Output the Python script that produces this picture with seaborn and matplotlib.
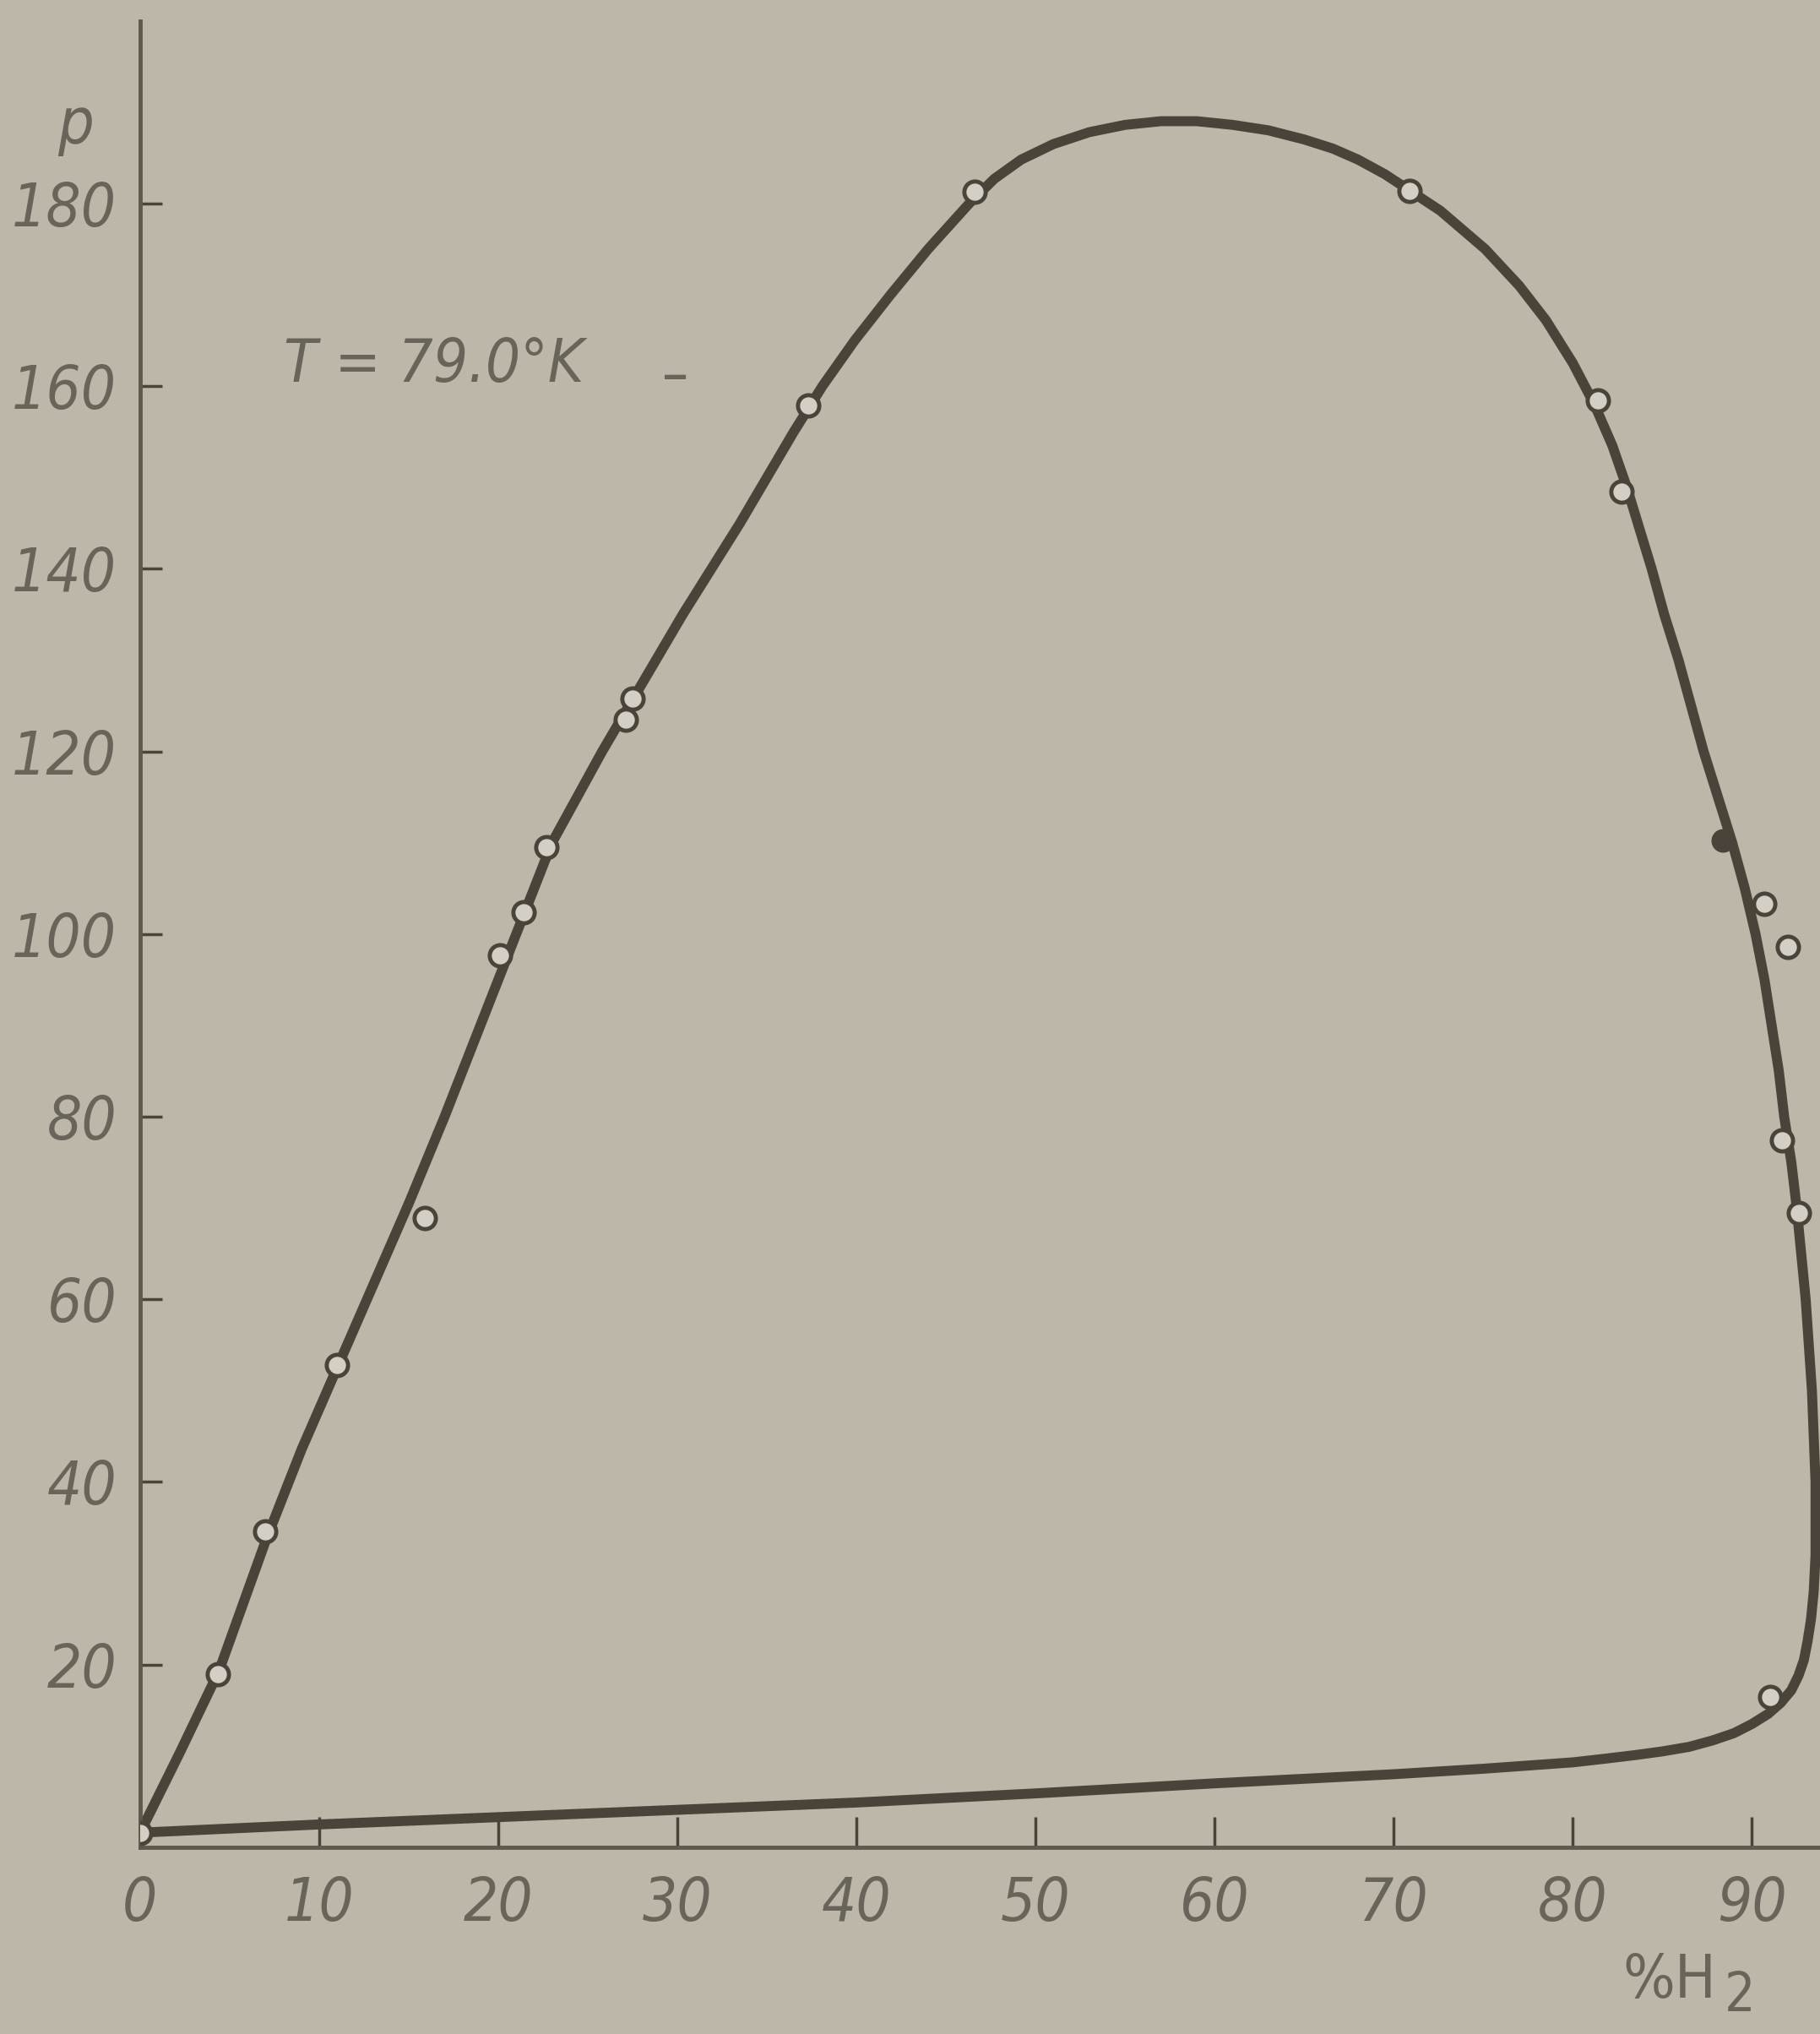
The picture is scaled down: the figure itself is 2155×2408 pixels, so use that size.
import matplotlib
matplotlib.use("Agg")
import matplotlib.pyplot as plt
import seaborn as sns
import pandas as pd

# ==================================================
# DATA
# ==================================================

# phase boundary, traced as one closed path: left branch up,
# over the maximum, right branch down, bottom branch back to 0
curve_h2 = [0, 2.2, 4.4, 7.0, 9.0, 11.0, 13.0, 15.0, 17.0, 19.0, 21.0,
            23.0, 24.4, 25.8, 27.3, 28.8, 30.3, 31.9, 33.5, 35.0, 36.5,
            38.1, 39.9, 41.9, 44.0, 46.3, 47.7, 49.2, 51.0, 53.0, 55.0,
            57.0, 59.0, 61.0, 63.0, 65.0, 66.6, 68.0, 69.5, 70.9, 72.6,
            75.1, 77.0, 78.5, 80.0, 81.2, 82.2, 83.0, 83.7, 84.4, 85.1,
            85.9, 86.6, 87.3, 88.1, 88.9, 89.6, 90.2, 90.7, 91.1, 91.5,
            91.8, 92.2, 92.5, 93.0, 93.35, 93.55, 93.55, 93.45, 93.3, 93.1,
            92.9, 92.6, 92.2, 91.6, 90.9, 90.0, 89.0, 87.8, 86.5, 85.0,
            83.5, 81.8, 80.0, 75, 70, 60, 50, 40, 30, 20, 10, 0]
curve_p = [1.6, 10.3, 19.3, 33.5, 43.5, 52.5, 61.5, 70.5, 80, 90, 100,
           110, 115, 120, 125, 130, 135, 140, 145, 150, 155,
           160, 165, 170, 175, 180, 182.7, 184.8, 186.5, 187.8, 188.6,
           189, 189, 188.6, 188, 187, 186, 184.8, 183.2, 181.4, 179.2,
           175, 171, 167.2, 162.5, 158, 153.5, 149, 144.5, 140, 135,
           130, 125, 120, 115, 110, 105, 100, 95, 90, 85,
           80, 75, 70, 60, 50, 40, 32, 28, 25, 22.5,
           20.5, 18.8, 17.2, 15.8, 14.6, 13.5, 12.5, 11.7, 11.0, 10.5,
           10.1, 9.7, 9.3, 8.6, 8.0, 7.0, 5.9, 4.9, 4.1, 3.3, 2.5, 1.6]

# measured points (open circles)
open_h2 = [0, 4.35, 7.0, 11.0, 15.9, 20.1, 21.4, 22.7, 27.1, 27.5, 37.3,
           46.6, 70.9, 81.4, 82.7, 90.7, 92.0, 91.7, 92.6, 91.0]
open_p = [1.6, 19.0, 34.6, 52.8, 68.9, 97.7, 102.4, 109.5, 123.5, 125.8,
          157.9, 181.3, 181.4, 158.4, 148.4, 103.3, 98.6, 77.4, 69.5, 16.5]

# single filled point
solid_h2 = [88.4]
solid_p = [110.2]

x_ticks = [0, 10, 20, 30, 40, 50, 60, 70, 80, 90]
y_ticks = [20, 40, 60, 80, 100, 120, 140, 160, 180]

title_text = "T = 79.0°K"

# ==================================================
# STYLE
# ==================================================

paper = "#bcb7a8"
ink = "#4a4339"
print_grey = "#68645a"

sns.set_theme(style="ticks", rc={
    "figure.facecolor": paper,
    "axes.facecolor": paper,
    "savefig.facecolor": paper,
})
plt.rcParams["font.family"] = ["DejaVu Sans"]
plt.rcParams["font.stretch"] = "condensed"

# ==================================================
# PLOT
# ==================================================

fig = plt.figure(figsize=(21.55, 24.08), dpi=100)
ax = fig.add_axes([0.077, 0.0918, 0.923, 0.898])

line_df = pd.DataFrame({"h2": curve_h2, "p": curve_p})
sns.lineplot(
    data=line_df, x="h2", y="p",
    sort=False, estimator=None,
    color=ink, linewidth=8.5, ax=ax,
    solid_joinstyle="round", solid_capstyle="round"
)

sns.scatterplot(
    x=open_h2, y=open_p,
    s=330, marker="o",
    facecolor="#d3cfc4", edgecolor=ink, linewidth=3.5,
    zorder=5, ax=ax
)

sns.scatterplot(
    x=solid_h2, y=solid_p,
    s=330, marker="o",
    color=ink, edgecolor=ink, linewidth=2,
    zorder=5, ax=ax
)

ax.set_xlim(0, 93.8)
ax.set_ylim(0, 200)

ax.set_xticks(x_ticks)
ax.set_yticks(y_ticks)
ax.set_xticklabels([str(v) for v in x_ticks])
ax.set_yticklabels([str(v) for v in y_ticks])

for lab in ax.get_xticklabels() + ax.get_yticklabels():
    lab.set_fontstyle("oblique")
    lab.set_fontstretch("condensed")
    lab.set_fontsize(52)
    lab.set_color(print_grey)

ax.tick_params(axis="x", direction="in", length=26, width=2.5,
               color=ink, pad=24)
ax.tick_params(axis="y", direction="in", length=19, width=2.5,
               color=ink, pad=20)

ax.spines["top"].set_visible(False)
ax.spines["right"].set_visible(False)
for side in ["left", "bottom"]:
    ax.spines[side].set_color("#5e584d")
    ax.spines[side].set_linewidth(3.5)

ax.set_xlabel("")
ax.set_ylabel("")

# axis names written in the corners, as in the print
ax.text(-3.6, 188.5, "p", fontsize=54, fontstyle="oblique",
        fontstretch="condensed", color=print_grey,
        ha="center", va="center", clip_on=False)
ax.text(85.4, -14.7, "%H", fontsize=52, fontstretch="condensed",
        color=print_grey, ha="center", va="center", clip_on=False)
ax.text(89.3, -16.3, "2", fontsize=46, fontstretch="condensed",
        color=print_grey, ha="center", va="center", clip_on=False)

ax.text(8.0, 162.3, title_text, fontsize=52, fontstyle="oblique",
        fontstretch="condensed", color=print_grey,
        ha="left", va="center")
ax.text(29.9, 161.0, "–", fontsize=50, color=print_grey,
        ha="center", va="center")

plt.savefig("out.png", dpi=100)
plt.close()
